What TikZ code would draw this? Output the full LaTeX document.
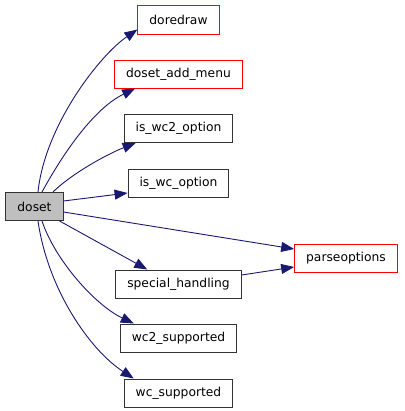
\documentclass[tikz,border=0pt]{standalone}
\usepackage{fontspec}
\setmainfont{DejaVu Sans}
\usetikzlibrary{arrows.meta, positioning}
\definecolor{edgeblue}{HTML}{191970}
\definecolor{callergray}{HTML}{BFBFBF}
\definecolor{boxred}{HTML}{FF0000}
\definecolor{boxgray}{HTML}{333333}

\begin{document}
\begin{tikzpicture}[>={Triangle[length=13bp,width=10bp]}, x=1bp, y=-1bp]
    \tikzset{box/.style={draw=boxgray, line width=1bp, minimum height=28bp, inner xsep=11.5bp, inner ysep=0pt, font=\fontsize{12.3bp}{14bp}\selectfont, text centered},
        redbox/.style={box, draw=boxred},
        call/.style={->, draw=edgeblue, fill=none, line width=0.9bp}
    }
    \useasboundingbox (0,0) rectangle (405,411);

    \node (doset) [box, fill=callergray] at (34.5, 206.5) {doset};
    \node (doredraw) [box, draw=none] at (178.5, 19.5) {doredraw};
    \draw [boxred, line width=1bp] (doredraw.south west) rectangle (doredraw.north east);
    \node (doset-add-menu) [redbox] [below=25.5bp of doredraw] {doset\_add\_menu};
    \node (is-wc2-option) [box] [below=25.5bp of doset-add-menu] {is\_wc2\_option};
    \node (is-wc-option) [box] [below=25.5bp of is-wc2-option] {is\_wc\_option};
    \node (parseoptions) [redbox] at (346, 258) {parseoptions};
    \node (special-handling) [box] at (178.5, 284) {special\_handling};
    \node (wc2-supported) [box] [below=25bp of special-handling] {wc2\_supported};
    \node (wc-supported) [box] [below=26bp of wc2-supported] {wc\_supported};

    \draw [call] ([xshift=3.5bp]doset.north) .. controls (45,125) and (100,55) .. ([yshift=-10bp]doredraw.west);
    \draw [call] ([xshift=7.5bp]doset.north) .. controls (65,150) and (95,108) .. ([xshift=21bp]doset-add-menu.south west);
    \draw [call] ([xshift=18.5bp]doset.north) .. controls (70,175) and (105,155) .. ([xshift=12bp]is-wc2-option.south west);
    \draw [call] ([yshift=5.5bp]doset.east) -- ([yshift=-10bp]is-wc-option.west);
    \draw [call] ([yshift=-5.5bp]doset.east) -- ([yshift=9bp]parseoptions.west);
    \draw [call] ([xshift=-4bp]doset.south east) -- ([xshift=32bp]special-handling.north west);
    \draw [call] ([yshift=9bp]special-handling.east) -- ([yshift=-9bp]parseoptions.west);
    \draw [call] ([xshift=7.5bp]doset.south) .. controls (55,260) and (95,305) .. ([xshift=14bp]wc2-supported.north west);
    \draw [call] ([xshift=3.5bp]doset.south) .. controls (48,290) and (90,350) .. ([xshift=10bp]wc-supported.north west);
\end{tikzpicture}
\end{document}
